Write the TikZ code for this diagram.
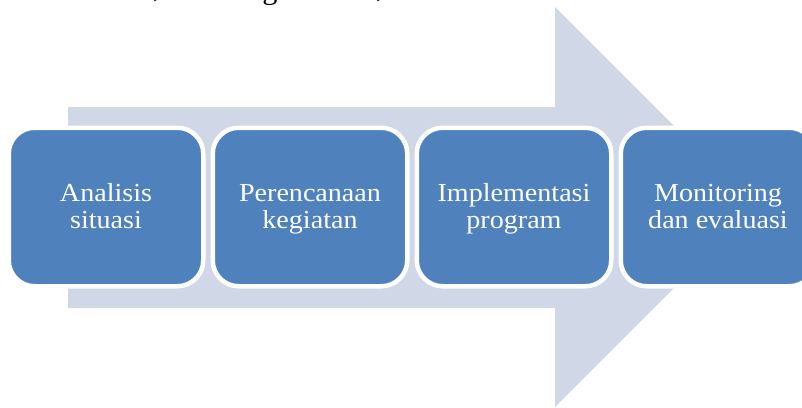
\documentclass[tikz,border=0pt]{standalone}
\usepackage{fontspec}
\setmainfont{Liberation Serif}[FakeStretch=1.08]
\definecolor{stageblue}{HTML}{4F81BD}
\definecolor{arrowgrey}{HTML}{D0D8E8}
% struts that give every two-line label the same baselines
\newcommand\stgtop{\rule{0pt}{21.5pt}}
\newcommand\stgbot{\rule[-6pt]{0pt}{6pt}}
\begin{document}
\begin{tikzpicture}[x=1pt,y=-1pt,
  stage/.style={rectangle, rounded corners=26pt, fill=stageblue, draw=white,
    line width=4.5pt, minimum width=194.5pt, minimum height=158.5pt,
    inner sep=0pt, text=white, align=center,
    font=\fontsize{26}{26.5}\selectfont},
  frag/.style={anchor=base, inner sep=0pt, font=\fontsize{28}{28}\selectfont}]
\useasboundingbox (0,0) rectangle (802,407);

% wide background arrow
\fill[arrowgrey] (68,107) -- (555,107) -- (555,7) -- (755,207)
  -- (555,407) -- (555,308) -- (68,308) -- cycle;

% process stages
\node[stage] (s1) at (106,207) {\stgtop Analisis\\situasi\stgbot};
\node[stage] (s2) at (310,207) {\stgtop Perencanaan\\kegiatan\stgbot};
\node[stage] (s3) at (514,207) {\stgtop Implementasi\\program\stgbot};
\node[stage] (s4) at (718,207) {\stgtop Monitoring\\dan evaluasi\stgbot};

% lower edge of the preceding text line
\node[frag] (f1) at (157,-2.5) {,};
\node[frag] (f2) at (270,-0.5) {g};
\node[frag] (f3) at (380,-2.5) {,};
\end{tikzpicture}
\end{document}
